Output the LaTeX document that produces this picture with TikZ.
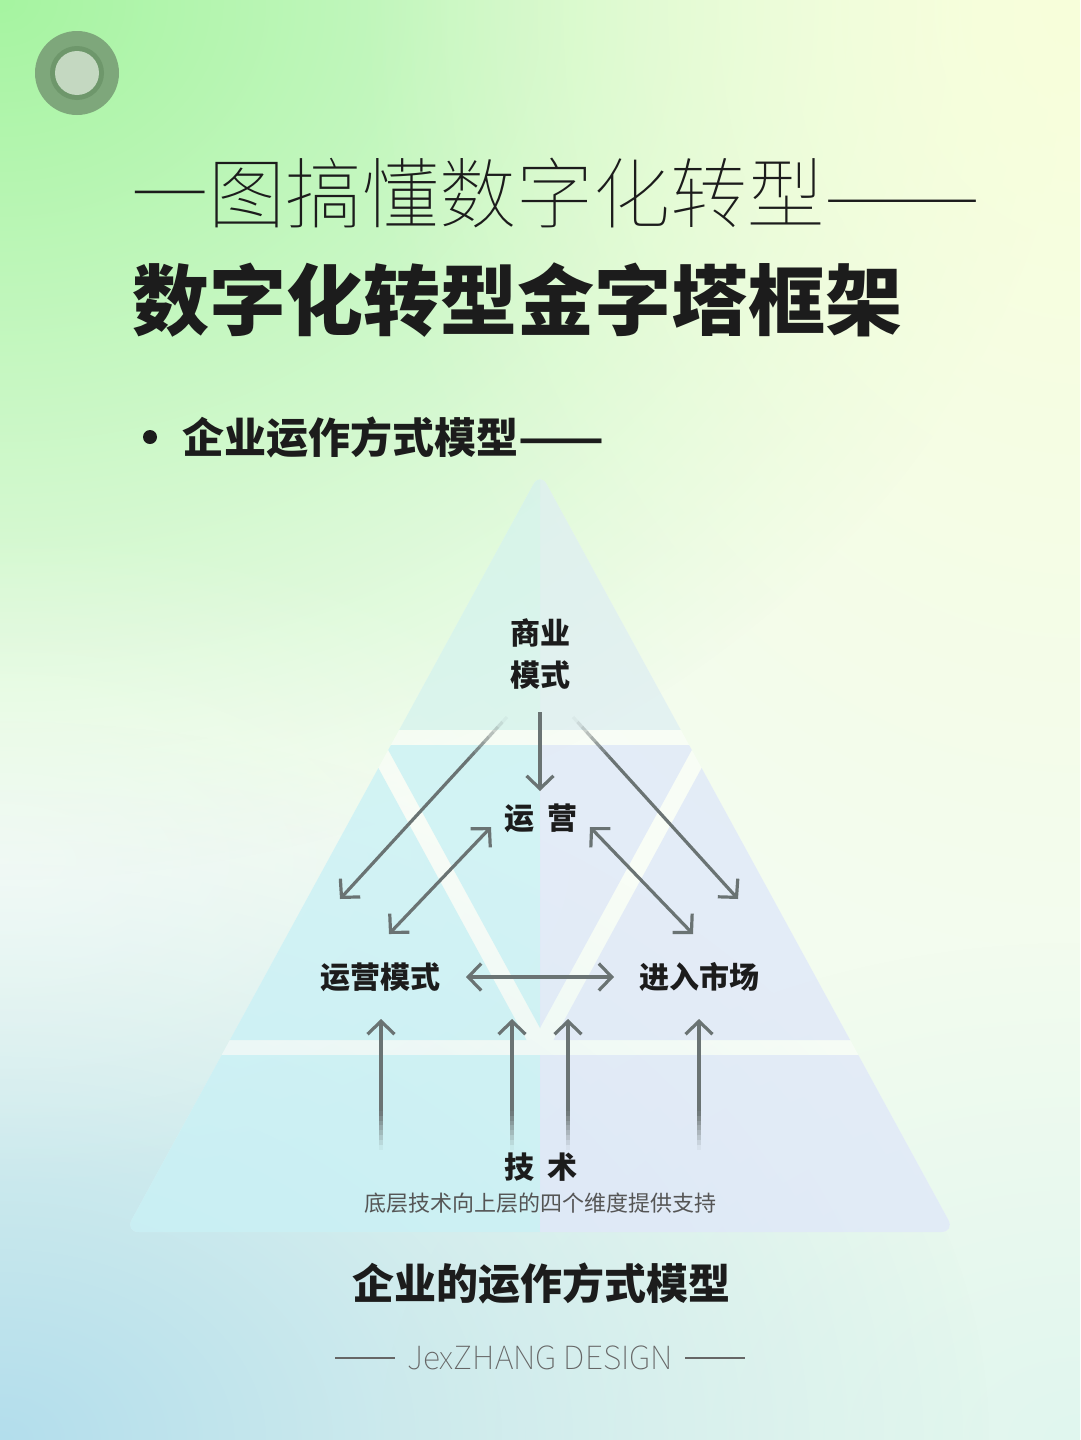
\documentclass[tikz,border=0pt]{standalone}
\usepackage{fontspec}
\usepackage{graphicx}
\usetikzlibrary{arrows.meta,calc,fadings,shadings}
\newfontfamily\cjk{Noto Sans CJK SC}
\IfFontExistsTF{Noto Sans CJK SC Thin}{\newfontfamily\cjkthin{Noto Sans CJK SC Thin}}{%
  \IfFontExistsTF{Noto Sans CJK SC Light}{\newfontfamily\cjkthin{Noto Sans CJK SC Light}}{\newfontfamily\cjkthin{Noto Sans CJK SC}}}
\definecolor{bgbase}{HTML}{F3FCEF}
\definecolor{bgG}{HTML}{A6F4A1}
\definecolor{bgY}{HTML}{F8FFDA}
\definecolor{bgB}{HTML}{B3DEEC}
\definecolor{bgM}{HTML}{E0F6EE}
\definecolor{txt}{HTML}{1C1C1C}
\definecolor{agrey}{HTML}{6A7373}
\definecolor{pyrLc}{HTML}{BAEDF3}
\definecolor{pyrRc}{HTML}{D9E3F8}
\definecolor{pyrTLc}{HTML}{C6EEE8}
\definecolor{pyrTRc}{HTML}{D3E9EE}
\definecolor{subgrey}{HTML}{555555}
\definecolor{siggrey}{HTML}{666666}
\definecolor{circO}{HTML}{7EA77B}
\definecolor{circD}{HTML}{6E976B}
\definecolor{circI}{HTML}{C4D8C1}
\tikzfading[name=glow, inner color=transparent!0, outer color=transparent!100]
\newcommand{\fadeln}[3]{%
  \foreach \i [evaluate=\i as \op using (\i+0.5)/8, evaluate=\i as \fa using #3*\i/8, evaluate=\i as \fb using #3*(\i+1)/8] in {0,...,7}
    {\draw[fadeseg, opacity=\op] ($(#1)!\fa!(#2)$) -- ($(#1)!\fb!(#2)$);}}
\tikzset{
  arrline/.style={draw=agrey, line width=3.2pt},
  tipb/.tip={Straight Barb[length=13pt,width=27pt]},
  arr/.style={arrline, -tipb},
  darr/.style={arrline, tipb-tipb},
  fadeseg/.style={arrline, line cap=butt},
  lbl/.style={inner sep=0pt, text=txt, font=\cjk\bfseries\fontsize{30}{42}\selectfont, align=center},
  pyrL/.style={fill=pyrLc, fill opacity=0.6},
  pyrR/.style={fill=pyrRc, fill opacity=0.65},
  pyrTL/.style={fill=pyrTLc, fill opacity=0.55},
  pyrTR/.style={fill=pyrTRc, fill opacity=0.55},
  blob/.style={path fading=glow},
}
\begin{document}
\begin{tikzpicture}[x=1pt,y=-1pt]
\useasboundingbox (0,0) rectangle (1080,1440);
% background
\fill[bgbase] (0,0) rectangle (1080,1440);
\begin{scope}
  \clip (0,0) rectangle (1080,1440);
  \fill[bgM, blob] (1080,1440) ellipse (700 and 500);
  \fill[bgB, blob] (0,1440) ellipse (1000 and 720);
  \fill[bgG, blob] (0,0) ellipse (1080 and 880);
  \fill[bgY, blob] (1080,0) ellipse (720 and 950);
  \fill[white, opacity=0.45, blob] (0,860) ellipse (650 and 330);
\end{scope}
% top-left ornament
\fill[circO] (77,73) circle (42);
\fill[circD] (77,73) circle (27);
\fill[circI] (77,73) circle (22);
% titles
\node[anchor=west, inner sep=0pt, text=txt, font=\cjkthin\fontsize{77}{80}\selectfont] (t1) at (131,193) {一图搞懂数字化转型\resizebox{156pt}{\height}{——}};
\node[anchor=west, inner sep=0pt, text=txt, font=\cjk\bfseries\fontsize{77}{80}\selectfont] (t2) at (132,300) {数字化转型金字塔框架};
\node[circle, fill=txt, minimum size=14pt, inner sep=0pt] (bul) at (150,437) {};
\node[anchor=west, inner sep=0pt, text=txt, font=\cjk\bfseries\fontsize{42}{44}\selectfont] (bt) at (182,437) {企业运作方式模型\resizebox{86pt}{\height}{——}};
% pyramid
\begin{scope}
  \clip[rounded corners=14pt] (540,472) -- (955,1232) -- (125,1232) -- cycle;
  \fill[white, opacity=0.45] (0,400) rectangle (1080,1300);
  \begin{scope}
    \clip (0,400) rectangle (540,1300);
    \fill[pyrTL] (0,400) rectangle (1080,730);
    \fill[pyrL] (378.4,768) -- (526.5,1040) -- (0,1040) -- (0,768) -- cycle;
    \fill[pyrL] (385.5,745) -- (694.5,745) -- (540,1028) -- cycle;
    \fill[pyrL] (0,1055) rectangle (1080,1300);
  \end{scope}
  \begin{scope}
    \clip (540,400) rectangle (1080,1300);
    \fill[pyrTR] (0,400) rectangle (1080,730);
    \fill[pyrR] (701.6,768) -- (553.5,1040) -- (1080,1040) -- (1080,768) -- cycle;
    \fill[pyrR] (385.5,745) -- (694.5,745) -- (540,1028) -- cycle;
    \fill[pyrR] (0,1055) rectangle (1080,1300);
  \end{scope}
\end{scope}
% labels
\node[lbl] (bm) at (540,654) {商业\\模式};
\node[lbl] (yy) at (541,818) {运\hspace{13pt}营};
\node[lbl] (yym) at (380,977) {运营模式};
\node[lbl] (jr) at (699,977) {进入市场};
\node[lbl] (js) at (541,1167) {技\hspace{13pt}术};
\node[inner sep=0pt, text=subgrey, font=\cjk\fontsize{22}{24}\selectfont] (sub) at (540,1203) {底层技术向上层的四个维度提供支持};
% connector end points
\coordinate (a1s) at (540,712); \coordinate (a1e) at (540,791);
\coordinate (a2s) at (507,717); \coordinate (a2e) at (340,899);
\coordinate (a3s) at (573,717); \coordinate (a3e) at (738,899);
\coordinate (a4s) at (491,827); \coordinate (a4e) at (389,934);
\coordinate (a5s) at (590,827); \coordinate (a5e) at (693,934);
\coordinate (a6s) at (466,977); \coordinate (a6e) at (614,977);
\coordinate (u1s) at (381,1150); \coordinate (u1e) at (381,1019);
\coordinate (u2s) at (512,1150); \coordinate (u2e) at (512,1019);
\coordinate (u3s) at (568,1150); \coordinate (u3e) at (568,1019);
\coordinate (u4s) at (699,1150); \coordinate (u4e) at (699,1019);
% connectors
\draw[arr] (a1s) -- (a1e);
\fadeln{a2s}{a2e}{0.22}
\draw[arr] ($(a2s)!0.22!(a2e)$) -- (a2e);
\fadeln{a3s}{a3e}{0.22}
\draw[arr] ($(a3s)!0.22!(a3e)$) -- (a3e);
\draw[darr] (a4s) -- (a4e);
\draw[darr] (a5s) -- (a5e);
\draw[darr] (a6s) -- (a6e);
\foreach \u in {u1,u2,u3,u4}{
  \fadeln{\u s}{\u e}{0.3}
  \draw[arr] ($(\u s)!0.3!(\u e)$) -- (\u e);
}
% footer
\node[inner sep=0pt, text=txt, font=\cjk\bfseries\fontsize{42}{44}\selectfont] (ft) at (541,1283) {企业的运作方式模型};
\node[inner sep=0pt, text=siggrey, font=\cjkthin\fontsize{32}{34}\selectfont] (sig) at (540,1358) {JexZHANG DESIGN};
\draw[siggrey, line width=1.3pt] ([xshift=-12pt]sig.west) -- ([xshift=-72pt]sig.west);
\draw[siggrey, line width=1.3pt] ([xshift=12pt]sig.east) -- ([xshift=72pt]sig.east);
\end{tikzpicture}
\end{document}
